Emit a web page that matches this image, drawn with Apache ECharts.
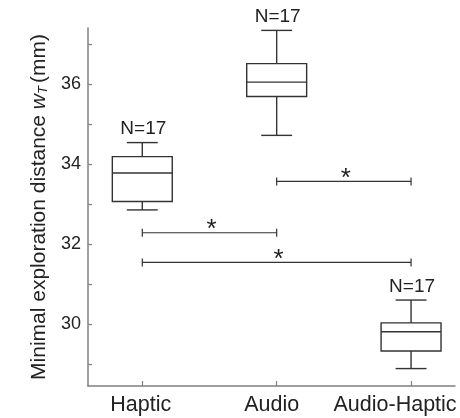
<!DOCTYPE html>
<html>
<head>
<meta charset="utf-8">
<script src="https://cdn.jsdelivr.net/npm/echarts@6/dist/echarts.min.js"></script>
<style>
  html, body { margin: 0; padding: 0; background: #ffffff; }
  #chart { width: 460px; height: 418px; }
</style>
</head>
<body>
<div id="chart"></div>
<script>
// Box-plot summary per condition (mm)
const categories = ['Haptic', 'Audio', 'Audio-Haptic'];
const whiskerLow = [32.86, 34.72, 28.90];
const quartile1 = [33.07, 35.69, 29.34];
const medians = [33.78, 36.05, 29.82];
const quartile3 = [34.19, 36.51, 30.04];
const whiskerHigh = [34.54, 37.34, 30.61];
const sampleSizes = [17, 17, 17];

// Significant pairwise comparisons (group indices and bracket height)
const comparisonFrom = [1, 0, 0];
const comparisonTo = [2, 1, 2];
const comparisonLevel = [33.57, 32.29, 31.55];
const comparisonMark = ['*', '*', '*'];

// Axis ticks and labels
const yTickValues = [29, 30, 31, 32, 33, 34, 35, 36, 37];
const yLabelValues = [30, 32, 34, 36];
const xTickValues = [1, 2, 3];

const FONT = 'Liberation Sans, Arial, Helvetica, sans-serif';
const INK = '#333333';
const TEXT = '#222222';
const AXIS = '#808080';

const boxData = categories.map((c, i) => [
  i + 1, whiskerLow[i], quartile1[i], medians[i], quartile3[i], whiskerHigh[i], sampleSizes[i]
]);

const bracketData = comparisonFrom.map((f, i) => [
  f + 1, comparisonTo[i] + 1, comparisonLevel[i], comparisonMark[i]
]);

function renderBox(params, api) {
  const x = api.value(0);
  const pLow = api.coord([x, api.value(1)]);
  const pQ1 = api.coord([x, api.value(2)]);
  const pMed = api.coord([x, api.value(3)]);
  const pQ3 = api.coord([x, api.value(4)]);
  const pHigh = api.coord([x, api.value(5)]);
  const unit = api.size([1, 0])[0];
  const half = unit * 0.223;
  const capHalf = unit * 0.115;
  const cx = pMed[0];
  const line = { stroke: INK, lineWidth: 1.4, fill: null };
  return {
    type: 'group',
    children: [
      { type: 'line', shape: { x1: cx, y1: pQ3[1], x2: cx, y2: pHigh[1] }, style: line },
      { type: 'line', shape: { x1: cx, y1: pQ1[1], x2: cx, y2: pLow[1] }, style: line },
      { type: 'line', shape: { x1: cx - capHalf, y1: pHigh[1], x2: cx + capHalf, y2: pHigh[1] }, style: line },
      { type: 'line', shape: { x1: cx - capHalf, y1: pLow[1], x2: cx + capHalf, y2: pLow[1] }, style: line },
      { type: 'rect', shape: { x: cx - half, y: pQ3[1], width: half * 2, height: pQ1[1] - pQ3[1] },
        style: { stroke: INK, lineWidth: 1.4, fill: '#ffffff' } },
      { type: 'line', shape: { x1: cx - half, y1: pMed[1], x2: cx + half, y2: pMed[1] }, style: line },
      { type: 'text', x: cx + 1, y: pHigh[1] - 4,
        style: { text: 'N=' + api.value(6), fontSize: 19, fontFamily: FONT, fill: TEXT,
                 align: 'center', verticalAlign: 'bottom' } }
    ]
  };
}

function renderBracket(params, api) {
  const level = api.value(2);
  const p1 = api.coord([api.value(0), level]);
  const p2 = api.coord([api.value(1), level]);
  const y = p1[1];
  const line = { stroke: INK, lineWidth: 1.2, fill: null };
  return {
    type: 'group',
    children: [
      { type: 'line', shape: { x1: p1[0], y1: y, x2: p2[0], y2: y }, style: line },
      { type: 'line', shape: { x1: p1[0], y1: y - 4, x2: p1[0], y2: y + 4 }, style: line },
      { type: 'line', shape: { x1: p2[0], y1: y - 4, x2: p2[0], y2: y + 4 }, style: line },
      { type: 'text', x: (p1[0] + p2[0]) / 2 + 2, y: y - 3,
        style: { text: api.value(3), fontSize: 26, fontFamily: FONT, fill: TEXT,
                 align: 'center', verticalAlign: 'middle' } }
    ]
  };
}

// Category labels nudged left so the last one stays inside the canvas
const labelStyleKeys = ['c0', 'c1', 'c2'];

const chart = echarts.init(document.getElementById('chart'), null, { renderer: 'canvas' });
chart.setOption({
  animation: false,
  backgroundColor: '#ffffff',
  grid: { left: 88, right: 5, top: 28, bottom: 32, containLabel: false, outerBoundsMode: 'none' },
  xAxis: {
    type: 'value',
    min: 0.596,
    max: 3.327,
    splitLine: { show: false },
    axisLine: { show: true, onZero: false, lineStyle: { color: AXIS, width: 1.5 } },
    axisTick: { show: true, inside: true, length: 5, customValues: xTickValues,
                lineStyle: { color: AXIS, width: 1.2 } },
    axisLabel: {
      customValues: xTickValues, margin: 8, fontSize: 21.5, fontFamily: FONT, color: TEXT,
      hideOverlap: false,
      formatter: v => {
        const i = Math.round(v) - 1;
        return '{' + labelStyleKeys[i] + '|' + categories[i] + '}';
      },
      rich: {
        c0: { fontSize: 21.5, fontFamily: FONT, color: TEXT, padding: [0, 3, 0, 0] },
        c1: { fontSize: 21.5, fontFamily: FONT, color: TEXT, padding: [0, 10, 0, 0] },
        c2: { fontSize: 21.5, fontFamily: FONT, color: TEXT, padding: [0, 32, 0, 0] }
      }
    }
  },
  yAxis: {
    type: 'value',
    min: 28.465,
    max: 37.4,
    splitLine: { show: false },
    axisLine: { show: true, onZero: false, lineStyle: { color: AXIS, width: 1.5 } },
    axisTick: { show: true, inside: true, length: 4, customValues: yTickValues,
                lineStyle: { color: AXIS, width: 1.2 } },
    axisLabel: { customValues: yLabelValues, margin: 7, fontSize: 18, fontFamily: FONT, color: TEXT },
    name: 'Minimal exploration distance {w|w}{t|T}{r|(mm)}',
    nameLocation: 'middle',
    nameGap: 38,
    nameTextStyle: {
      fontSize: 21, fontFamily: FONT, color: TEXT,
      rich: {
        w: { fontSize: 21, fontStyle: 'italic', fontFamily: FONT, color: TEXT },
        t: { fontSize: 13, fontStyle: 'italic', fontFamily: FONT, color: TEXT, padding: [9, 3, 0, 0] },
        r: { fontSize: 21, fontFamily: FONT, color: TEXT }
      }
    }
  },
  series: [
    {
      type: 'custom',
      name: 'boxes',
      renderItem: renderBox,
      encode: { x: 0, y: [1, 5] },
      data: boxData,
      clip: false,
      z: 3
    },
    {
      type: 'custom',
      name: 'comparisons',
      renderItem: renderBracket,
      encode: { x: [0, 1], y: 2 },
      data: bracketData,
      clip: false,
      z: 2
    }
  ]
});
</script>
</body>
</html>
